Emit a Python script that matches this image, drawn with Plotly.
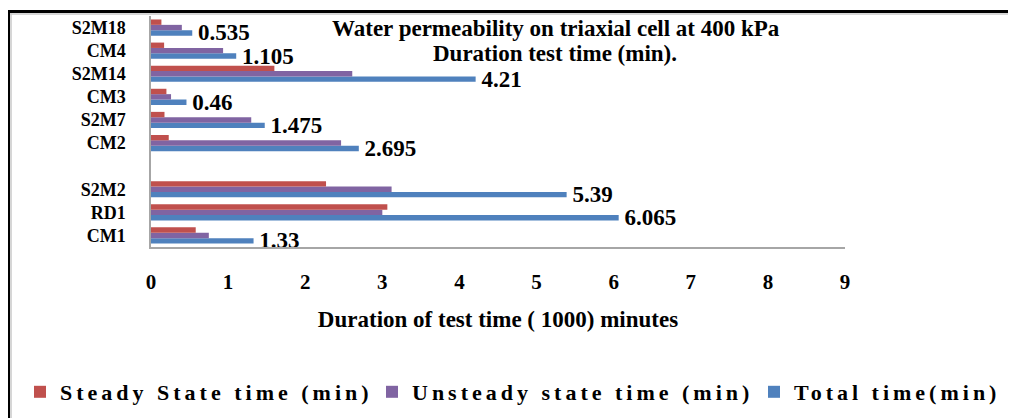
import plotly.graph_objects as go

# Data (bottom to top as drawn); " " is the empty slot between S2M2 and CM2
categories = ["CM1", "RD1", "S2M2", " ", "CM2", "S2M7", "CM3", "S2M14", "CM4", "S2M18"]
steady = [0.58, 3.065, 2.27, None, 0.23, 0.175, 0.2, 1.6, 0.17, 0.135]
unsteady = [0.75, 3.0, 3.12, None, 2.465, 1.3, 0.26, 2.61, 0.935, 0.4]
total = [1.33, 6.065, 5.39, None, 2.695, 1.475, 0.46, 4.21, 1.105, 0.535]
x_ticks = [0, 1, 2, 3, 4, 5, 6, 7, 8, 9]

FONT = "Liberation Serif"
RED, PURPLE, BLUE = "#C0504D", "#8064A2", "#4F81BD"

W, H = 1016, 418
OFF = 8  # page body margin offset
L, R, T, B = 151 - OFF, W - (845 - OFF), 16 - OFF, H - (247 - OFF)
PW, PH = W - L - R, H - T - B


def px_x(p):
    return (p - OFF - L) / PW


def px_y(p):
    return (H - B - (p - OFF)) / PH


def lsp(s):
    return '<span style="letter-spacing:4px">' + s + '</span>'


fig = go.Figure()
fig.add_trace(go.Bar(
    y=categories, x=total, orientation="h", name=lsp("Total time(min)"),
    marker=dict(color=BLUE, line=dict(width=0)), legend="legend3",
    text=["" if v is None else "\u00a0" + str(v) for v in total],
    textposition="outside", constraintext="none", cliponaxis=False,
    textfont=dict(family=FONT, size=23, color="black", weight="bold"),
))
fig.add_trace(go.Bar(
    y=categories, x=unsteady, orientation="h", name=lsp("Unsteady state time (min)"),
    marker=dict(color=PURPLE, line=dict(width=0)), legend="legend2",
))
fig.add_trace(go.Bar(
    y=categories, x=steady, orientation="h", name=lsp("Steady State time (min)"),
    marker=dict(color=RED, line=dict(width=0)), legend="legend",
))

title_font = dict(family=FONT, size=23, color="black", weight="bold")
legend_font = dict(family=FONT, size=22, color="black", weight="bold")


def leg(xpix):
    return dict(
        orientation="h", xref="container", yref="container",
        x=(xpix - OFF) / W, xanchor="left", y=(H - (392 - OFF)) / H, yanchor="middle",
        font=legend_font, itemwidth=30, bgcolor="rgba(0,0,0,0)",
    )


fig.update_layout(
    width=W, height=H,
    margin=dict(l=L, r=R, t=T, b=B, autoexpand=False),
    paper_bgcolor="white", plot_bgcolor="white",
    barmode="group", bargap=0.3, bargroupgap=0,
    font=dict(family=FONT, color="black"),
    showlegend=True,
    legend=leg(20), legend2=leg(372), legend3=leg(754),
    xaxis=dict(
        range=[0, 9], tickvals=x_ticks, showgrid=False, zeroline=False,
        showline=True, linecolor="#a6a6a6", linewidth=1.5,
        ticks="", ticklabelstandoff=15, automargin=False,
        tickfont=dict(family=FONT, size=21, color="black", weight="bold"),
        title=dict(text="Duration of test time ( 1000) minutes", standoff=18,
                   font=dict(family=FONT, size=23, color="black", weight="bold")),
    ),
    yaxis=dict(
        type="category", categoryorder="array", categoryarray=categories,
        tickmode="array", tickvals=categories, ticktext=categories,
        showgrid=False, zeroline=False, automargin=False,
        showline=True, linecolor="#a6a6a6", linewidth=1.5,
        ticks="", ticklabelstandoff=20,
        tickfont=dict(family=FONT, size=18, color="black", weight="bold"),
    ),
    annotations=[
        dict(xref="paper", yref="paper", x=px_x(556), y=px_y(29), xanchor="center", yanchor="middle",
             text="Water permeability on triaxial cell at 400 kPa", showarrow=False, font=title_font),
        dict(xref="paper", yref="paper", x=px_x(555), y=px_y(54), xanchor="center", yanchor="middle",
             text="Duration test time (min).", showarrow=False, font=title_font),
    ],
    shapes=[
        dict(type="line", xref="paper", yref="paper", x0=px_x(7), x1=px_x(1030), y0=px_y(11.5), y1=px_y(11.5),
             line=dict(color="black", width=3)),
        dict(type="line", xref="paper", yref="paper", x0=px_x(10), x1=px_x(1030), y0=px_y(14), y1=px_y(14),
             line=dict(color="#c8c8c8", width=1.5)),
        dict(type="line", xref="paper", yref="paper", x0=px_x(8.5), x1=px_x(8.5), y0=px_y(10), y1=px_y(440),
             line=dict(color="black", width=3)),
        dict(type="line", xref="paper", yref="paper", x0=px_x(11), x1=px_x(11), y0=px_y(13), y1=px_y(440),
             line=dict(color="#c8c8c8", width=1.5)),
    ],
)

fig.write_html("out.html")
